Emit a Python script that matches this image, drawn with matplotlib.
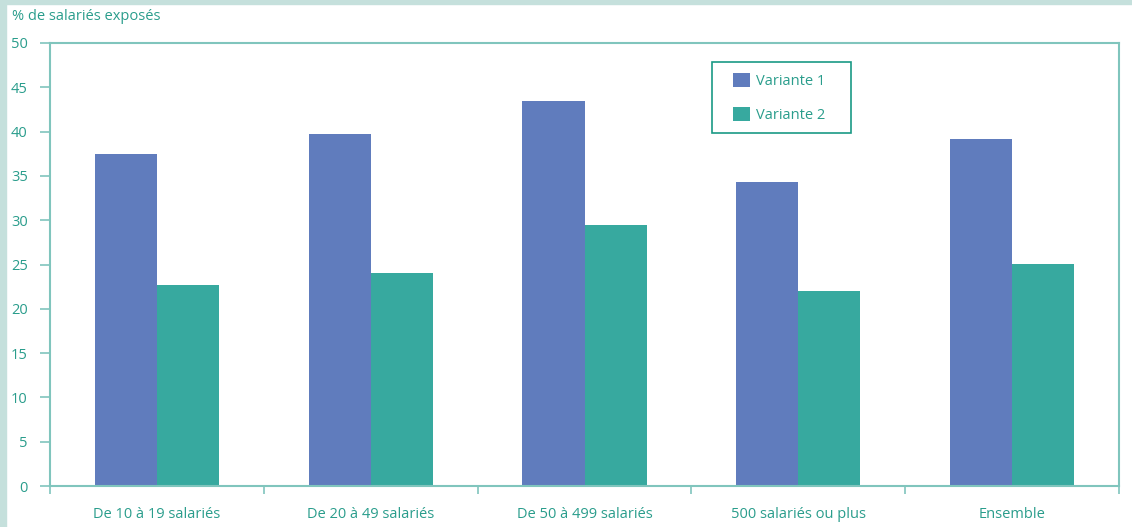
import matplotlib.pyplot as plt
import numpy as np
from matplotlib.patches import Rectangle

categories = ["De 10 à 19 salariés", "De 20 à 49 salariés", "De 50 à 499 salariés",
              "500 salariés ou plus", "Ensemble"]
variante1 = [37.5, 39.7, 43.5, 34.3, 39.2]
variante2 = [22.7, 24.0, 29.5, 22.0, 25.1]
yticks = [0, 5, 10, 15, 20, 25, 30, 35, 40, 45, 50]

BLUE = "#607cbd"
TEAL = "#37a99f"
TEXT = "#2a9d8c"
LINE = "#80c5bd"

W, H = 1132, 527
plt.rcParams["font.family"] = ["Open Sans", "DejaVu Sans"]

fig = plt.figure(figsize=(W / 100, H / 100), dpi=100)
# light frame strips on left and top
fig.patches.append(Rectangle((0, 0), 6 / W, 1, transform=fig.transFigure,
                             color="#c5e0dc", zorder=0))
fig.patches.append(Rectangle((0, 1 - 4 / H), 1, 4 / H, transform=fig.transFigure,
                             color="#c5e0dc", zorder=0))

ax = fig.add_axes([50 / W, 1 - 486 / H, 1069 / W, 443 / H])

x = np.arange(len(categories))
w = 0.29
ax.bar(x - w / 2, variante1, w, color=BLUE, label="Variante 1")
ax.bar(x + w / 2, variante2, w, color=TEAL, label="Variante 2")

ax.set_xlim(-0.5, len(categories) - 0.5)
ax.set_ylim(0, 50)
ax.set_yticks(yticks)

ax.set_xticks(x)
ax.set_xticklabels(categories)
ax.set_xticks(np.arange(len(categories) + 1) - 0.5, minor=True)
ax.tick_params(axis="x", which="major", length=0, pad=15, labelsize=10.5, labelcolor=TEXT)
ax.tick_params(axis="x", which="minor", length=6, width=1.2, color=LINE)
ax.tick_params(axis="y", length=7, width=1.2, color=LINE, labelsize=10.5,
               labelcolor=TEXT, pad=9)

for s in ax.spines.values():
    s.set_color(LINE)
    s.set_linewidth(1.5)

fig.text(12 / W, 1 - 17 / H, "% de salariés exposés", color=TEXT,
         fontsize=10.5, va="center", ha="left")

# legend entries without frame, box drawn separately
leg = ax.legend(loc="upper left", bbox_to_anchor=(733 / W, 1 - 73 / H),
                bbox_transform=fig.transFigure, frameon=False, fontsize=10.5,
                labelcolor=TEXT, handlelength=1.15, handleheight=1.15, borderpad=0,
                labelspacing=1.2, handletextpad=0.45, borderaxespad=0)
ax.add_patch(Rectangle((712 / W, 1 - 133 / H), 139 / W, 71 / H, transform=fig.transFigure,
                       fill=False, edgecolor="#1a9a85", linewidth=1.2, zorder=5,
                       clip_on=False))

fig.savefig("out.png", dpi=100)
